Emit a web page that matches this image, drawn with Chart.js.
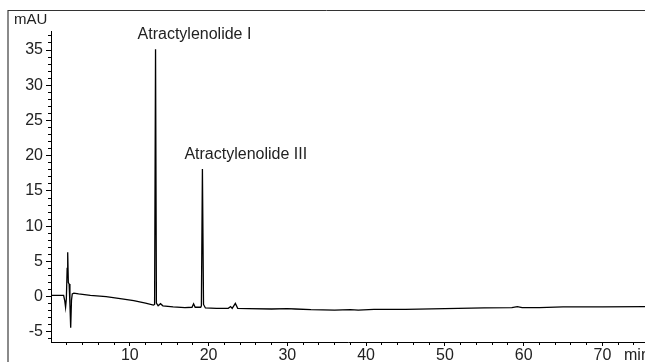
<!DOCTYPE html>
<html>
<head>
<meta charset="utf-8">
<script src="https://cdn.jsdelivr.net/npm/chart.js@4.4.0/dist/chart.umd.min.js"></script>
<style>
html, body { margin: 0; padding: 0; background: #fff; }
</style>
</head>
<body>
<canvas id="chrom" width="645" height="362"></canvas>
<script>
// retention time (min) and detector signal (mAU)
var retentionTimes = [0, 1.0, 1.6, 1.75, 1.85, 1.95, 2.05, 2.12, 2.2, 2.3, 2.4, 2.5, 2.6, 2.7, 2.9, 3.5, 5.0, 7.0, 9.0, 10.5, 12.0, 13.0, 13.15, 13.27, 13.38, 13.6, 13.9, 14.2, 15.5, 17.0, 17.9, 18.1, 18.3, 19.0, 19.09, 19.22, 19.36, 19.6, 21.0, 22.5, 22.8, 23.0, 23.4, 23.7, 25.0, 28.0, 30.0, 31.0, 33.0, 36.0, 38.0, 39.0, 41.0, 45.0, 50.0, 55.0, 58.5, 59.2, 59.8, 62.0, 65.0, 70.0, 75.4];
var absorbance = [0.2, 0.2, 0.2, -0.6, -1.5, -0.3, 4.0, 6.3, 2.0, 1.8, -1.0, -4.4, -0.5, 0.4, 0.5, 0.4, 0.2, 0.0, -0.3, -0.55, -0.9, -1.2, -1.1, 35.1, -0.9, -1.3, -1.0, -1.3, -1.45, -1.55, -1.5, -1.0, -1.5, -1.5, -1.3, 18.1, -1.1, -1.6, -1.65, -1.65, -1.4, -1.65, -0.95, -1.65, -1.7, -1.75, -1.7, -1.75, -1.85, -1.9, -1.85, -1.9, -1.8, -1.8, -1.7, -1.6, -1.55, -1.4, -1.55, -1.55, -1.45, -1.45, -1.4];

var peakNames = ["Atractylenolide I", "Atractylenolide III"];
var peakTimes = [13.27, 19.22];
var peakHeights = [35.1, 18.1];

var xTicks = [10, 20, 30, 40, 50, 60, 70];
var yTicks = [-5, 0, 5, 10, 15, 20, 25, 30, 35];

var FONT = '"Liberation Sans", Arial, sans-serif';
var X_MIN = 0, X_MAX = 75.4, Y_MIN = -6.43, Y_MAX = 37.7;

function fixedTicks(values) {
    return function (scale) {
        scale.ticks = values.map(function (v) { return { value: v }; });
    };
}
function minorTicks(from, to, step) {
    var out = [];
    for (var v = from; v <= to + 1e-9; v += step) out.push({ value: v });
    return function (scale) { scale.ticks = out; };
}

var decorations = {
    id: 'decorations',
    afterDraw: function (chart) {
        var c = chart.ctx;
        var xs = chart.scales.x, ys = chart.scales.y;
        c.save();
        // frame
        c.strokeStyle = '#8a8a8a';
        c.lineWidth = 2;
        c.beginPath(); c.moveTo(8, 10); c.lineTo(8, 362); c.stroke();
        c.strokeStyle = '#333';
        c.lineWidth = 1;
        c.beginPath(); c.moveTo(8, 10.5); c.lineTo(645, 10.5); c.stroke();

        c.fillStyle = '#222';
        c.textBaseline = 'alphabetic';
        c.textAlign = 'left';
        c.font = '15px ' + FONT;
        c.fillText('mAU', 14, 24);
        c.font = '16px ' + FONT;
        c.fillText('min', 624, 360);

        for (var i = 0; i < peakNames.length; i++) {
            var px = xs.getPixelForValue(peakTimes[i]);
            var py = ys.getPixelForValue(peakHeights[i]);
            c.fillText(peakNames[i], px - 18, py - 10);
        }
        c.restore();
    }
};

new Chart(document.getElementById('chrom'), {
    type: 'line',
    data: {
        labels: retentionTimes,
        datasets: [{
            data: absorbance,
            borderColor: '#000',
            borderWidth: 1.3,
            pointRadius: 0,
            tension: 0,
            fill: false
        }]
    },
    options: {
        responsive: false,
        animation: false,
        devicePixelRatio: 1,
        layout: { padding: { top: 31, right: 0, bottom: 0, left: 0 } },
        plugins: { legend: { display: false }, tooltip: { enabled: false } },
        scales: {
            x: {
                type: 'linear', position: 'bottom', weight: 1,
                min: X_MIN, max: X_MAX,
                afterBuildTicks: fixedTicks(xTicks),
                afterFit: function (s) { s.height = 20; },
                ticks: { font: { size: 16, family: FONT }, color: '#222', padding: 0, maxRotation: 0, autoSkip: false },
                grid: { drawOnChartArea: false, tickLength: 4, tickColor: '#000' },
                border: { display: true, color: '#000', width: 1 }
            },
            x2: {
                type: 'linear', position: 'bottom', weight: 0,
                min: X_MIN, max: X_MAX,
                afterBuildTicks: minorTicks(2, 74, 2),
                afterFit: function (s) { s.height = 0; },
                ticks: { display: false, autoSkip: false },
                grid: { drawOnChartArea: false, tickLength: 3, tickColor: '#000' },
                border: { display: false }
            },
            y: {
                type: 'linear', position: 'left', weight: 1,
                min: Y_MIN, max: Y_MAX,
                afterBuildTicks: fixedTicks(yTicks),
                afterFit: function (s) { s.width = 51; },
                ticks: { font: { size: 16, family: FONT }, color: '#222', padding: 3, autoSkip: false },
                grid: { drawOnChartArea: false, tickLength: 5, tickColor: '#000' },
                border: { display: true, color: '#000', width: 1 }
            },
            y2: {
                type: 'linear', position: 'left', weight: 0,
                min: Y_MIN, max: Y_MAX,
                afterBuildTicks: minorTicks(-6, 37, 1),
                afterFit: function (s) { s.width = 0; },
                ticks: { display: false, autoSkip: false },
                grid: { drawOnChartArea: false, tickLength: 3, tickColor: '#000' },
                border: { display: false }
            }
        }
    },
    plugins: [decorations]
});
</script>
</body>
</html>
